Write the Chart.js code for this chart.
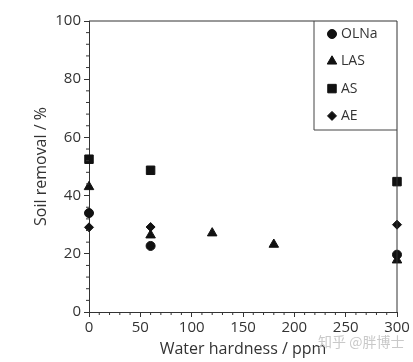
<!DOCTYPE html>
<html>
<head>
<meta charset="utf-8">
<script src="https://cdn.jsdelivr.net/npm/chart.js@4/dist/chart.umd.min.js"></script>
<style>
  html, body { margin: 0; padding: 0; background: #fff; }
  #wrap { position: relative; width: 413px; height: 362px; }
  #mark { position: absolute; left: 318px; top: 331px; font: 14px "Noto Sans CJK SC", sans-serif; color: #c9c9c9; }
</style>
</head>
<body>
<div id="wrap">
  <canvas id="chart" width="413" height="362"></canvas>
  <div id="mark">知乎 @胖博士</div>
</div>
<script>
// values
const seriesNames = ['OLNa', 'LAS', 'AS', 'AE'];
const olnaX = [0, 60, 300];
const olnaY = [34.0, 22.7, 19.7];
const lasX = [0, 60, 120, 180, 300];
const lasY = [43.0, 26.4, 27.1, 23.2, 17.8];
const asX = [0, 60, 300];
const asY = [52.5, 48.7, 44.8];
const aeX = [0, 60, 300];
const aeY = [29.1, 29.2, 30.0];

const ink = '#111';
const axisColor = '#333';
const textColor = '#333';
const font = 'Open Sans';

function pts(xs, ys) {
  return xs.map((x, i) => ({ x: x, y: ys[i] }));
}

const styles = [
  { pointStyle: 'circle', radius: 4.5 },
  { pointStyle: 'triangle', radius: 5.5 },
  { pointStyle: 'rect', radius: 6 },
  { pointStyle: 'rectRot', radius: 4.5 }
];
const allData = [pts(olnaX, olnaY), pts(lasX, lasY), pts(asX, asY), pts(aeX, aeY)];

// frame, minor ticks and boxed legend
const extras = {
  id: 'extras',
  afterDraw(chart) {
    const ctx = chart.ctx;
    const a = chart.chartArea;
    const xs = chart.scales.x;
    const ys = chart.scales.y;
    ctx.save();
    ctx.strokeStyle = axisColor;
    ctx.lineWidth = 1;
    ctx.beginPath();
    ctx.moveTo(a.left, a.top);
    ctx.lineTo(a.right, a.top);
    ctx.lineTo(a.right, a.bottom);
    ctx.stroke();

    ctx.beginPath();
    for (let v = 0; v <= 100; v += 4) {
      if (v % 20 === 0) continue;
      const py = ys.getPixelForValue(v);
      ctx.moveTo(a.left - 3, py);
      ctx.lineTo(a.left, py);
    }
    for (let v = 0; v <= 300; v += 10) {
      if (v % 50 === 0) continue;
      const px = xs.getPixelForValue(v);
      ctx.moveTo(px, a.bottom);
      ctx.lineTo(px, a.bottom + 3);
    }
    ctx.stroke();

    // legend box
    const boxL = 314;
    const boxB = 130;
    ctx.strokeStyle = '#444';
    ctx.beginPath();
    ctx.moveTo(boxL, a.top);
    ctx.lineTo(boxL, boxB);
    ctx.lineTo(a.right, boxB);
    ctx.stroke();

    ctx.font = '14px "' + font + '"';
    ctx.textBaseline = 'middle';
    seriesNames.forEach((name, i) => {
      const y = 34 + i * 27.3;
      ctx.fillStyle = ink;
      ctx.strokeStyle = ink;
      Chart.helpers.drawPoint(ctx, {
        pointStyle: styles[i].pointStyle,
        radius: styles[i].radius,
        rotation: 0,
        borderWidth: 1
      }, 332, y);
      ctx.fillStyle = textColor;
      ctx.fillText(name, 341, y);
    });
    ctx.restore();
  }
};

const datasets = seriesNames.map((name, i) => ({
  label: name,
  data: allData[i],
  pointStyle: styles[i].pointStyle,
  pointRadius: styles[i].radius,
  backgroundColor: ink,
  borderColor: ink,
  borderWidth: 1,
  clip: false
}));

new Chart(document.getElementById('chart'), {
  type: 'scatter',
  data: { datasets: datasets },
  options: {
    responsive: false,
    animation: false,
    layout: { padding: { top: 21, right: 16 } },
    plugins: { legend: { display: false }, tooltip: { enabled: false } },
    scales: {
      x: {
        min: 0,
        max: 300,
        ticks: { stepSize: 50, color: textColor, font: { family: font, size: 15 }, padding: 2, maxRotation: 0 },
        grid: { drawOnChartArea: false, drawTicks: true, tickLength: 5, color: axisColor },
        border: { color: axisColor },
        title: { display: true, text: 'Water hardness / ppm', color: textColor, font: { family: font, size: 16 }, padding: { top: 0, bottom: 3 } },
        afterFit(s) { s.height = 50; }
      },
      y: {
        min: 0,
        max: 100,
        ticks: { stepSize: 20, color: textColor, font: { family: font, size: 15 }, padding: 3 },
        grid: { drawOnChartArea: false, drawTicks: true, tickLength: 5, color: axisColor },
        border: { color: axisColor },
        title: { display: true, text: 'Soil removal / %', color: textColor, font: { family: font, size: 16 }, padding: { top: 32, bottom: 0 } },
        afterFit(s) { s.width = 89; }
      }
    }
  },
  plugins: [extras]
});
</script>
</body>
</html>
